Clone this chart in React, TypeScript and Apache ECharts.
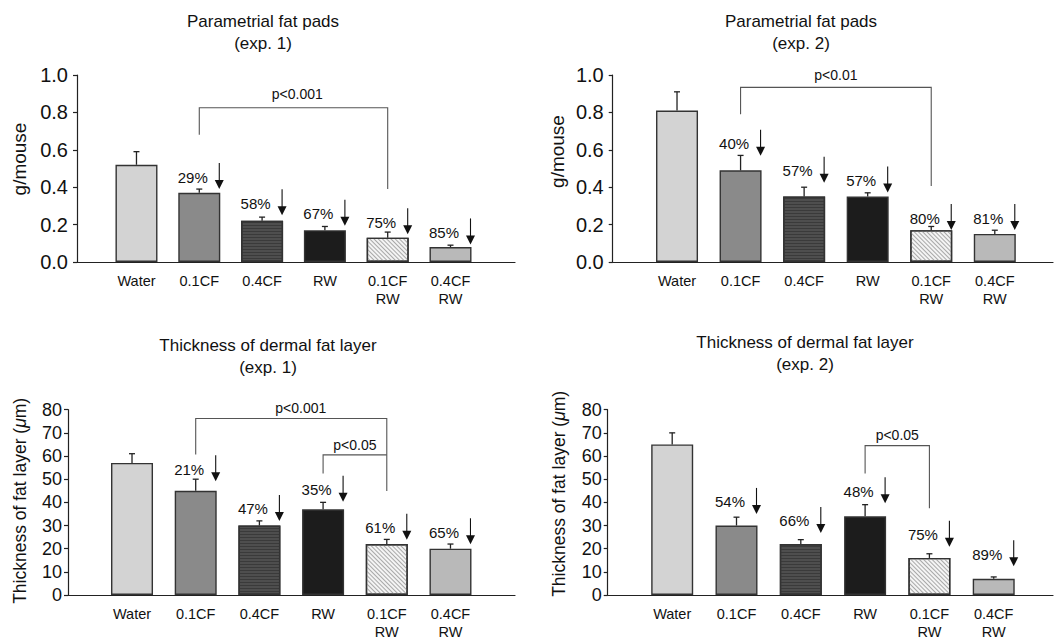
import React, { useEffect, useRef } from "react";
import * as echarts from "echarts";

const FONT = '"Liberation Sans", Arial, Helvetica, sans-serif';
const INK = "#111";

// ---------- data ----------
const categories = ["Water", "0.1CF", "0.4CF", "RW", "0.1CF\nRW", "0.4CF\nRW"];

// Parametrial fat pads (exp. 1)
const fat1Mean = [0.52, 0.37, 0.22, 0.17, 0.13, 0.08];
const fat1Sem = [0.07, 0.02, 0.02, 0.02, 0.03, 0.01];
const fat1Pct = ["29%", "58%", "67%", "75%", "85%"];
const fat1ArrowTip = [0.39, 0.25, 0.194, 0.148, 0.094];

// Parametrial fat pads (exp. 2)
const fat2Mean = [0.81, 0.49, 0.35, 0.35, 0.17, 0.15];
const fat2Sem = [0.1, 0.08, 0.05, 0.02, 0.02, 0.02];
const fat2Pct = ["40%", "57%", "57%", "80%", "81%"];
const fat2ArrowTip = [0.568, 0.424, 0.371, 0.171, 0.171];

// Thickness of dermal fat layer (exp. 1)
const derm1Mean = [57, 45, 30, 37, 22, 20];
const derm1Sem = [4, 5, 2, 3, 2, 2];
const derm1Pct = ["21%", "47%", "35%", "61%", "65%"];
const derm1ArrowTip = [49.1, 32, 40.3, 23.9, 21.9];

// Thickness of dermal fat layer (exp. 2)
const derm2Mean = [65, 30, 22, 34, 16, 7];
const derm2Sem = [5, 3.6, 1.9, 5, 1.8, 0.8];
const derm2Pct = ["54%", "66%", "48%", "75%", "89%"];
const derm2ArrowTip = [35, 26.8, 39.6, 20.8, 12.4];

// significance brackets: [x, y] path in data units, label and its anchor
const fat1Brackets = [
  { path: [[1, 0.68], [1, 0.825], [4, 0.825], [4, 0.39]], label: "p<0.001", at: [2.56, 0.898] },
];
const fat2Brackets = [
  { path: [[1, 0.79], [1, 0.934], [4, 0.934], [4, 0.406]], label: "p<0.01", at: [2.5, 0.998] },
];
const derm1Brackets = [
  { path: [[1, 60.7], [1, 76.2], [4, 76.2], [4, 44.9]], label: "p<0.001", at: [2.65, 80.9] },
  { path: [[3, 52.5], [3, 60.5], [4, 60.5]], label: "p<0.05", at: [3.5, 64.6] },
];
const derm2Brackets = [
  { path: [[3, 52.5], [3, 64.5], [4, 64.5], [4, 37.5]], label: "p<0.05", at: [3.5, 69.2] },
];

// ---------- styles ----------
const barStyles = [
  { color: "#d3d3d3" },
  { color: "#8a8a8a" },
  {
    color: "#4e4e4e",
    decal: { symbol: "rect", symbolSize: 1, dashArrayX: [1, 0], dashArrayY: [1, 2], color: "#3a3a3a" },
  },
  { color: "#1c1c1c" },
  {
    color: "#f4f4f4",
    decal: { symbol: "rect", symbolSize: 1, dashArrayX: [1, 0], dashArrayY: [1, 2], rotation: Math.PI / 4, color: "#a8a8a8" },
  },
  { color: "#b9b9b9" },
];

const panels = [
  {
    title: "Parametrial fat pads\n(exp. 1)", titleX: 263, titleY: 10,
    grid: { left: 77, top: 75, width: 438, height: 187 }, xRange: [-0.947, 6.027],
    yMax: 1, yInt: 0.2, dec: 1, tickFont: 20, tickMargin: 9,
    name: "g/mouse", nameFont: 19, nameGap: 48.5, namePad: 19,
    mean: fat1Mean, sem: fat1Sem, pct: fat1Pct, tip: fat1ArrowTip, brackets: fat1Brackets,
  },
  {
    title: "Parametrial fat pads\n(exp. 2)", titleX: 801, titleY: 10,
    grid: { left: 612.7, top: 75, width: 440.3, height: 187 }, xRange: [-1.012, 5.916],
    yMax: 1, yInt: 0.2, dec: 1, tickFont: 20, tickMargin: 9,
    name: "g/mouse", nameFont: 19, nameGap: 45.7, namePad: 34,
    mean: fat2Mean, sem: fat2Sem, pct: fat2Pct, tip: fat2ArrowTip, brackets: fat2Brackets,
  },
  {
    title: "Thickness of dermal fat layer\n(exp. 1)", titleX: 268, titleY: 334,
    grid: { left: 68, top: 409.7, width: 447, height: 187.3 }, xRange: [-1.005, 6.013],
    yMax: 80, yInt: 10, dec: 0, tickFont: 18, tickMargin: 6,
    name: "Thickness of fat layer ({it|μ}m)", nameFont: 17.5, nameGap: 39, namePad: 3,
    mean: derm1Mean, sem: derm1Sem, pct: derm1Pct, tip: derm1ArrowTip, brackets: derm1Brackets,
  },
  {
    title: "Thickness of dermal fat layer\n(exp. 2)", titleX: 805, titleY: 331.5,
    grid: { left: 607.7, top: 409.7, width: 445.3, height: 187.3 }, xRange: [-1.003, 5.922],
    yMax: 80, yInt: 10, dec: 0, tickFont: 18, tickMargin: 6,
    name: "Thickness of fat layer ({it|μ}m)", nameFont: 17.5, nameGap: 40, namePad: 17,
    mean: derm2Mean, sem: derm2Sem, pct: derm2Pct, tip: derm2ArrowTip, brackets: derm2Brackets,
  },
];

function buildOption() {
  const grid: any[] = [];
  const xAxis: any[] = [];
  const yAxis: any[] = [];
  const series: any[] = [];
  const graphic: any[] = [];

  panels.forEach((p, k) => {
    grid.push({ ...p.grid, containLabel: false });
    xAxis.push({
      type: "value",
      gridIndex: k,
      min: p.xRange[0],
      max: p.xRange[1],
      splitLine: { show: false },
      axisTick: { show: false },
      axisLine: { show: true, onZero: false, lineStyle: { color: "#222", width: 1.2 } },
      axisLabel: {
        customValues: [0, 1, 2, 3, 4, 5],
        formatter: (v: number) => categories[Math.round(v)],
        fontSize: 14.5,
        lineHeight: 18,
        margin: 10,
        color: INK,
        fontFamily: FONT,
        verticalAlign: "top",
      },
    });
    yAxis.push({
      type: "value",
      gridIndex: k,
      min: 0,
      max: p.yMax,
      interval: p.yInt,
      splitLine: { show: false },
      axisLine: { show: true, onZero: false, lineStyle: { color: "#222", width: 1.2 } },
      axisTick: { show: true, inside: false, length: 4, lineStyle: { color: "#222", width: 1.2 } },
      axisLabel: {
        fontSize: p.tickFont,
        color: INK,
        fontFamily: FONT,
        margin: p.tickMargin,
        formatter: (v: number) => v.toFixed(p.dec),
      },
      name: p.name,
      nameLocation: "middle",
      nameRotate: 90,
      nameGap: p.nameGap,
      nameTextStyle: {
        fontSize: p.nameFont,
        color: INK,
        fontFamily: FONT,
        padding: [0, 0, 0, p.namePad],
        rich: { it: { fontStyle: "italic", fontSize: p.nameFont, color: INK, fontFamily: FONT } },
      },
    });

    // bars
    series.push({
      type: "bar",
      xAxisIndex: k,
      yAxisIndex: k,
      barWidth: 42,
      z: 2,
      data: p.mean.map((v, i) => ({
        value: [i, v],
        itemStyle: { ...barStyles[i], borderColor: "#333", borderWidth: 1.4 },
      })),
    });

    // error bars (upward)
    series.push({
      type: "custom",
      xAxisIndex: k,
      yAxisIndex: k,
      z: 3,
      clip: false,
      data: p.mean.map((v, i) => [i, v, v + p.sem[i]]),
      renderItem: (params: any, api: any) => {
        const i = api.value(0);
        const lo = api.coord([i, api.value(1)]);
        const hi = api.coord([i, api.value(2)]);
        const st = { stroke: "#222", lineWidth: 1.3 };
        return {
          type: "group",
          children: [
            { type: "line", shape: { x1: lo[0], y1: lo[1], x2: hi[0], y2: hi[1] }, style: st },
            { type: "line", shape: { x1: hi[0] - 3, y1: hi[1], x2: hi[0] + 3, y2: hi[1] }, style: st },
          ],
        };
      },
    });

    // percent reductions with arrows
    series.push({
      type: "custom",
      xAxisIndex: k,
      yAxisIndex: k,
      z: 4,
      clip: false,
      data: p.tip.map((t, j) => [j + 1, t]),
      renderItem: (params: any, api: any) => {
        const i = api.value(0);
        const pt = api.coord([i, api.value(1)]);
        const ax = pt[0] + 20;
        const y = pt[1];
        return {
          type: "group",
          children: [
            { type: "line", shape: { x1: ax, y1: y - 26, x2: ax, y2: y - 8 }, style: { stroke: INK, lineWidth: 1.1 } },
            { type: "polygon", shape: { points: [[ax - 4.5, y - 9], [ax + 4.5, y - 9], [ax, y]] }, style: { fill: INK } },
            {
              type: "text",
              x: pt[0] - 6.5,
              y: y - 12,
              style: {
                text: p.pct[params.dataIndex],
                fontSize: 15,
                fontFamily: FONT,
                fill: INK,
                align: "center",
                verticalAlign: "middle",
              },
            },
          ],
        };
      },
    });

    // significance brackets
    series.push({
      type: "custom",
      xAxisIndex: k,
      yAxisIndex: k,
      z: 1,
      clip: false,
      data: p.brackets.map((b) => b.at),
      renderItem: (params: any, api: any) => {
        const b = p.brackets[params.dataIndex];
        const pts = b.path.map((q) => api.coord(q));
        const lp = api.coord(b.at);
        return {
          type: "group",
          children: [
            { type: "polyline", shape: { points: pts }, style: { stroke: "#555", lineWidth: 1.1, fill: "none" } },
            {
              type: "text",
              x: lp[0],
              y: lp[1],
              style: { text: b.label, fontSize: 14, fontFamily: FONT, fill: INK, align: "center", verticalAlign: "middle" },
            },
          ],
        };
      },
    });

    graphic.push({
      type: "text",
      x: p.titleX,
      y: p.titleY,
      style: {
        text: p.title,
        fontSize: 17,
        lineHeight: 22,
        fontFamily: FONT,
        fill: INK,
        align: "center",
        verticalAlign: "top",
      },
    });
  });

  return {
    animation: false,
    backgroundColor: "#fff",
    grid,
    xAxis,
    yAxis,
    series,
    graphic,
  };
}

export default function App() {
  const ref = useRef<HTMLDivElement>(null);
  useEffect(() => {
    if (!ref.current) return;
    const chart = echarts.init(ref.current, undefined, { renderer: "svg" });
    chart.setOption(buildOption() as any);
    return () => chart.dispose();
  }, []);
  return (
    <div
      ref={ref}
      style={{ position: "absolute", left: 0, top: 0, width: 1055, height: 641, background: "#fff" }}
    />
  );
}
